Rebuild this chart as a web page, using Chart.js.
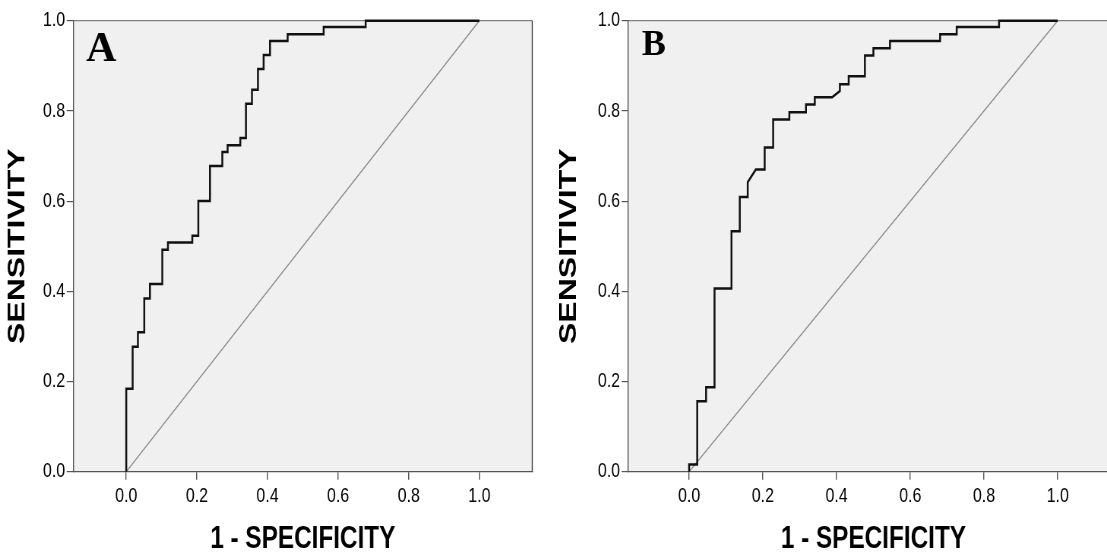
<!DOCTYPE html>
<html>
<head>
<meta charset="utf-8">
<script src="https://cdn.jsdelivr.net/npm/chart.js@4.4.1/dist/chart.umd.min.js"></script>
<style>
  body { margin: 0; width: 1107px; height: 552px; overflow: hidden; position: relative; background: #fff; }
  .panel { position: absolute; top: 0; transform: scaleX(0.76); transform-origin: 0 0; }
</style>
</head>
<body>
<div class="panel" style="left:0px"><canvas id="rocA" width="737" height="552"></canvas></div>
<div class="panel" style="left:550px"><canvas id="rocB" width="770" height="552"></canvas></div>
<script>
//DATA//
const xTicks = [0, 0.2, 0.4, 0.6, 0.8, 1.0]
const yTicks = [0, 0.2, 0.4, 0.6, 0.8, 1.0]
const refLine = [0, 1]
const xTitle = "1 - SPECIFICITY"
const yTitle = "SENSITIVITY"
const panelLabels = ["A", "B"]

// ROC coordinates (1 - specificity, sensitivity), panel A
const fprA = [0, 0, 0.018, 0.018, 0.033, 0.033, 0.051, 0.051, 0.067, 0.067, 0.102, 0.102,
  0.118, 0.118, 0.187, 0.187, 0.204, 0.204, 0.237, 0.237, 0.272, 0.272, 0.287, 0.287,
  0.323, 0.323, 0.339, 0.339, 0.356, 0.356, 0.373, 0.373, 0.389, 0.389, 0.407, 0.407,
  0.457, 0.457, 0.559, 0.559, 0.678, 0.678, 1.0]
const tprA = [0, 0.184, 0.184, 0.277, 0.277, 0.309, 0.309, 0.384, 0.384, 0.416, 0.416, 0.492,
  0.492, 0.508, 0.508, 0.523, 0.523, 0.600, 0.600, 0.678, 0.678, 0.709, 0.709, 0.724,
  0.724, 0.740, 0.740, 0.816, 0.816, 0.847, 0.847, 0.893, 0.893, 0.924, 0.924, 0.955,
  0.955, 0.970, 0.970, 0.986, 0.986, 1.0, 1.0]

// panel B
const fprB = [0, 0, 0.022, 0.022, 0.046, 0.046, 0.069, 0.069, 0.115, 0.115, 0.1375, 0.1375,
  0.159, 0.159, 0.181, 0.205, 0.205, 0.228, 0.228, 0.272, 0.272, 0.317, 0.317, 0.341,
  0.341, 0.388, 0.409, 0.409, 0.433, 0.433, 0.477, 0.477, 0.500, 0.500, 0.545, 0.545,
  0.681, 0.681, 0.726, 0.726, 0.841, 0.841, 1.0]
const tprB = [0, 0.016, 0.016, 0.156, 0.156, 0.1875, 0.1875, 0.406, 0.406, 0.533, 0.533, 0.609,
  0.609, 0.642, 0.670, 0.670, 0.719, 0.719, 0.781, 0.781, 0.797, 0.797, 0.814, 0.814,
  0.830, 0.830, 0.844, 0.859, 0.859, 0.877, 0.877, 0.923, 0.923, 0.939, 0.939, 0.955,
  0.955, 0.970, 0.970, 0.986, 0.986, 1.0, 1.0]

const SX = 0.76 // the picture is squeezed horizontally
const fontSans = "'Liberation Sans', Arial, sans-serif"

//PLUGIN: gray plot area, frame and panel letter//
const plotFrame = {
  id: 'plotFrame',
  beforeDraw(chart, args, o) {
    const { ctx, chartArea: a } = chart
    ctx.save()
    ctx.fillStyle = '#f0f0f0'
    ctx.fillRect(a.left, a.top, a.right - a.left, a.bottom - a.top)
    ctx.strokeStyle = '#808080'
    ctx.lineWidth = 1.2
    ctx.beginPath()
    ctx.moveTo(a.left, a.top)
    ctx.lineTo(a.right, a.top)
    ctx.stroke()
    ctx.strokeStyle = '#555'
    ctx.lineWidth = 1.4
    ctx.beginPath()
    ctx.moveTo(a.right, a.top)
    ctx.lineTo(a.right, a.bottom)
    ctx.stroke()
    ctx.restore()
  },
  afterDraw(chart, args, o) {
    const { ctx, chartArea: a } = chart
    ctx.save()
    ctx.translate(a.left + o.dx / SX, a.top + o.dy)
    ctx.scale(1 / SX, 1) // letters were added unsqueezed
    ctx.fillStyle = '#000'
    ctx.font = 'bold ' + o.size + "px 'Liberation Serif', 'Times New Roman', serif"
    ctx.textAlign = 'left'
    ctx.textBaseline = 'alphabetic'
    ctx.fillText(o.label, 0, 0)
    ctx.restore()
  }
}

//CHART//
function rocChart(id, fpr, tpr, opt) {
  const pts = fpr.map((x, i) => ({ x: x, y: tpr[i] }))
  const diag = refLine.map(v => ({ x: v, y: v }))
  return new Chart(document.getElementById(id), {
    type: 'scatter',
    data: {
      datasets: [
        { data: pts, showLine: true, borderColor: '#111', borderWidth: 2.5, pointRadius: 0, tension: 0, clip: 4 },
        { data: diag, showLine: true, borderColor: '#8a8a8a', borderWidth: 1.3, pointRadius: 0, tension: 0 }
      ]
    },
    plugins: [plotFrame],
    options: {
      responsive: false,
      animation: false,
      layout: { padding: { top: 20.7, right: opt.padRight, bottom: 0, left: 0 } },
      plugins: {
        legend: { display: false },
        tooltip: { enabled: false },
        plotFrame: { label: opt.label, dx: opt.labelDx, dy: opt.labelDy, size: opt.labelSize }
      },
      scales: {
        x: {
          type: 'linear', min: opt.xMin, max: opt.xMax,
          afterBuildTicks: s => { s.ticks = xTicks.map(v => ({ value: v })) },
          afterFit: s => { s.height = 80.3 },
          ticks: { callback: v => v.toFixed(1), color: '#000', font: { family: fontSans, size: 21 }, padding: 4, maxRotation: 0, autoSkip: false },
          grid: { drawOnChartArea: false, drawTicks: true, tickLength: 8, color: '#555', lineWidth: 1.4 },
          border: { display: true, color: '#555', width: 1.2 },
          title: { display: true, text: xTitle, color: '#000', font: { family: fontSans, size: 32, weight: 'bold', lineHeight: 1 }, padding: { top: 0, bottom: -3 } }
        },
        y: {
          type: 'linear', min: 0, max: 1,
          afterBuildTicks: s => { s.ticks = yTicks.map(v => ({ value: v })) },
          afterFit: s => { s.width = opt.yAxisW },
          ticks: { callback: v => v.toFixed(1), color: '#000', font: { family: fontSans, size: 21 }, padding: 2, autoSkip: false },
          grid: { drawOnChartArea: false, drawTicks: true, tickLength: 8.7, color: '#555', lineWidth: 1.2 },
          border: { display: true, color: '#555', width: 1.4 },
          title: { display: true, text: yTitle, color: '#000', font: { family: fontSans, size: 32, weight: 'bold', lineHeight: 1.2 }, padding: { top: opt.titlePad, bottom: 0 } }
        }
      }
    }
  })
}

rocChart('rocA', fprA, tprA, {
  xMin: -0.15, xMax: 1.15, yAxisW: 96.45, titlePad: 4.4, padRight: 36.6,
  label: panelLabels[0], labelDx: 12.7, labelDy: 40.3, labelSize: 42
})
rocChart('rocB', fprB, tprB, {
  xMin: -0.165, xMax: 1.165, yAxisW: 103, titlePad: 5.8, padRight: 22,
  label: panelLabels[1], labelDx: 13.4, labelDy: 34.3, labelSize: 36
})
</script>
</body>
</html>
